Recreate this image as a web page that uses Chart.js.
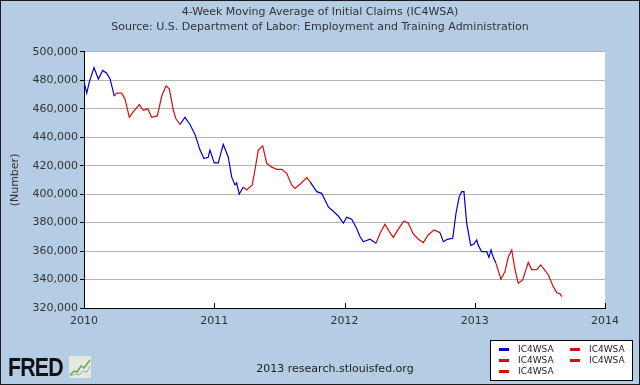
<!DOCTYPE html>
<html>
<head>
<meta charset="utf-8">
<script src="https://cdn.jsdelivr.net/npm/chart.js@4.4.0/dist/chart.umd.min.js"></script>
<style>
  html, body { margin: 0; padding: 0; }
  body { width: 640px; height: 385px; overflow: hidden; }
  #wrap { position: relative; width: 640px; height: 385px; background: #b4cce4; font-family: "DejaVu Sans", sans-serif; }
  #chart { position: absolute; left: 0; top: 0; }
  #frame { position: absolute; left: 0; top: 0; width: 640px; height: 385px; box-sizing: border-box; border: 1px solid #1a1a1a; pointer-events: none; }
  #legend { position: absolute; left: 490px; top: 340px; width: 143px; height: 41px; box-sizing: border-box; background: #fff; border: 1px solid #000; }
  #legend .item { position: absolute; font-size: 9px; line-height: 10px; color: #222; white-space: nowrap; }
  #legend .sw { position: absolute; left: -19px; top: 4px; width: 10px; height: 3px; }
  #source { position: absolute; left: 0; width: 670px; top: 362px; text-align: center; font-size: 11px; color: #222; }
  #fred { position: absolute; left: 8px; top: 354px; font-family: "Liberation Sans", Arial, sans-serif; font-weight: bold; font-size: 26px; line-height: 26px; color: #111; letter-spacing: -1px; transform: scaleX(0.82); transform-origin: left top; }
  #fredIcon { position: absolute; left: 69px; top: 356px; width: 22px; height: 22px; background: #e4e8e0; }
</style>
</head>
<body>
<div id="wrap">
  <canvas id="chart" width="640" height="385"></canvas>
  <div id="fred">FRED</div>
  <svg id="fredIcon" viewBox="0 0 22 22">
    <polyline points="1,19 5,15 8,16 12,10 15,12 21,4" fill="none" stroke="#6aa84f" stroke-width="1.5"/>
    <polyline points="1,20 6,18 10,19 14,15 18,16 21,10" fill="none" stroke="#8fb0d0" stroke-width="1"/>
  </svg>
  <div id="source">2013 research.stlouisfed.org</div>
  <div id="legend"></div>
  <div id="frame"></div>
</div>
<script>
const dates = [
  2010.000, 2010.021, 2010.041, 2010.077, 2010.110, 2010.144, 2010.174, 2010.200, 2010.233, 2010.251,
  2010.289, 2010.315, 2010.348, 2010.379, 2010.425, 2010.455, 2010.489, 2010.520, 2010.563, 2010.597,
  2010.630, 2010.655, 2010.686, 2010.706, 2010.737, 2010.775, 2010.814, 2010.852, 2010.891, 2010.921,
  2010.954, 2010.967, 2011.000, 2011.031, 2011.069, 2011.108, 2011.134, 2011.159, 2011.172, 2011.192,
  2011.223, 2011.249, 2011.292, 2011.318, 2011.338, 2011.372, 2011.403, 2011.441, 2011.480, 2011.518,
  2011.556, 2011.595, 2011.620, 2011.658, 2011.710, 2011.735, 2011.787, 2011.825, 2011.876, 2011.914,
  2011.952, 2011.991, 2012.017, 2012.055, 2012.088, 2012.119, 2012.144, 2012.196, 2012.242, 2012.273,
  2012.311, 2012.344, 2012.375, 2012.413, 2012.457, 2012.490, 2012.528, 2012.567, 2012.605, 2012.643,
  2012.687, 2012.733, 2012.759, 2012.789, 2012.831, 2012.856, 2012.881, 2012.900, 2012.917, 2012.938,
  2012.969, 2012.994, 2013.015, 2013.027, 2013.053, 2013.092, 2013.109, 2013.125, 2013.142, 2013.163,
  2013.201, 2013.232, 2013.258, 2013.284, 2013.309, 2013.334, 2013.368, 2013.393, 2013.411, 2013.437,
  2013.476, 2013.506, 2013.526, 2013.565, 2013.603, 2013.629, 2013.655, 2013.668
];
const claims = [
  479000, 471000, 479000, 489000, 481000, 487000, 485000, 481000, 469000, 471000,
  471000, 467000, 454000, 458000, 463000, 459000, 460000, 454000, 455000, 469000,
  476000, 474000, 459000, 453000, 449000, 454000, 449000, 442000, 431000, 425000,
  426000, 431000, 422000, 422000, 435000, 426000, 412000, 406500, 408000, 400000,
  405000, 403000, 406500, 420000, 431000, 434000, 421700, 419000, 417500, 417500,
  414700, 406500, 404000, 407000, 411600, 408800, 401800, 400600, 391000, 388000,
  384700, 379600, 383800, 382400, 377000, 370200, 366600, 368300, 365500, 372600,
  378900, 373700, 369700, 375400, 381200, 379600, 372000, 368300, 366000, 371300,
  374900, 373000, 366600, 368300, 369000, 386600, 398300, 401800, 401800, 379600,
  364000, 365000, 367900, 364000, 359600, 359600, 355600, 360800, 355600, 351400,
  340200, 345600, 356000, 360800, 347000, 337400, 339700, 347000, 352000, 347000,
  347000, 350300, 348000, 343200, 335000, 330800, 329900, 328000
];
// windows drawn in red; the blue line is left out inside them
const redStarts = [2010.215, 2011.223, 2012.230, 2013.160];
const redEnds = [2010.740, 2011.735, 2012.735, 2013.700];
const yearTicks = [2010, 2011, 2012, 2013, 2014];
const seriesName = 'IC4WSA';

const blue = '#0000cc';
const red = '#d01010';
const textColor = '#333333';
const font = { family: 'DejaVu Sans', size: 11 };

const inRed = (a, b) => redStarts.some((s, k) => a >= s && b <= redEnds[k]);

const allPoints = dates.map((d, i) => ({ x: d, y: claims[i] }));
const datasets = [{
  label: seriesName,
  data: allPoints,
  borderColor: blue,
  borderWidth: 1.2,
  pointRadius: 0,
  tension: 0,
  segment: {
    borderColor: c => inRed(c.p0.parsed.x, c.p1.parsed.x) ? 'rgba(0,0,0,0)' : blue,
  },
}];
redStarts.forEach((start, k) => {
  datasets.push({
    label: seriesName,
    data: allPoints.filter(p => p.x >= start && p.x <= redEnds[k]),
    borderColor: red,
    borderWidth: 1.2,
    pointRadius: 0,
    tension: 0,
  });
});

// legend, two columns like the original
const legendEl = document.getElementById('legend');
datasets.forEach((ds, i) => {
  const col = i % 2, row = Math.floor(i / 2);
  const item = document.createElement('div');
  item.className = 'item';
  item.style.left = (col === 0 ? 27 : 98) + 'px';
  item.style.top = (3 + row * 11) + 'px';
  item.innerHTML = '<span class="sw" style="background:' + ds.borderColor + '"></span>' + ds.label;
  legendEl.appendChild(item);
});

const plotBg = {
  id: 'plotBg',
  beforeDraw(chart) {
    const { ctx, chartArea: a } = chart;
    ctx.save();
    ctx.fillStyle = '#ffffff';
    ctx.fillRect(a.left, a.top, a.right - a.left, a.bottom - a.top);
    ctx.restore();
  },
  afterDraw(chart) {
    // short year ticks pointing up into the plot
    const { ctx, chartArea: a } = chart;
    const xs = chart.scales.x;
    ctx.save();
    ctx.strokeStyle = '#000';
    ctx.lineWidth = 1;
    yearTicks.forEach(y => {
      const px = Math.round(xs.getPixelForValue(y)) + 0.5;
      ctx.beginPath();
      ctx.moveTo(px, a.bottom);
      ctx.lineTo(px, a.bottom - 5);
      ctx.stroke();
    });
    ctx.restore();
  }
};

new Chart(document.getElementById('chart'), {
  type: 'line',
  data: { datasets },
  options: {
    responsive: false,
    animation: false,
    layout: { padding: { top: 0, right: 0, bottom: 55, left: 0 } },
    scales: {
      x: {
        type: 'linear',
        min: 2010,
        max: 2014,
        afterBuildTicks: s => { s.ticks = yearTicks.map(v => ({ value: v })); },
        afterFit: s => { s.height = 22; },
        grid: { display: true, drawOnChartArea: false, drawTicks: false },
        border: { display: true, color: '#000', width: 1 },
        ticks: { color: textColor, font, padding: 7, maxRotation: 0, callback: v => String(v) },
      },
      y: {
        min: 320000,
        max: 500000,
        afterFit: s => { s.width = 84; },
        grid: { color: '#b4b4b4', tickColor: '#000', tickLength: 4, lineWidth: 1 },
        border: { display: true, color: '#000', width: 1 },
        ticks: { stepSize: 20000, color: textColor, font, padding: 2, callback: v => v.toLocaleString('en-US') },
        title: { display: true, text: '(Number)', color: textColor, font, padding: { top: 9, bottom: 0 } },
      },
      yRight: {
        position: 'right',
        display: true,
        afterFit: s => { s.width = 35; },
        grid: { display: false },
        border: { display: false },
        ticks: { display: false },
      },
    },
    plugins: {
      legend: { display: false },
      tooltip: { enabled: false },
      title: {
        display: true,
        text: ['4-Week Moving Average of Initial Claims (IC4WSA)', 'Source: U.S. Department of Labor: Employment and Training Administration'],
        color: textColor,
        font: { family: 'DejaVu Sans', size: 11, weight: 'normal', lineHeight: 1.36 },
        padding: { top: 5, bottom: 17 },
      },
    },
  },
  plugins: [plotBg],
});
</script>
</body>
</html>
